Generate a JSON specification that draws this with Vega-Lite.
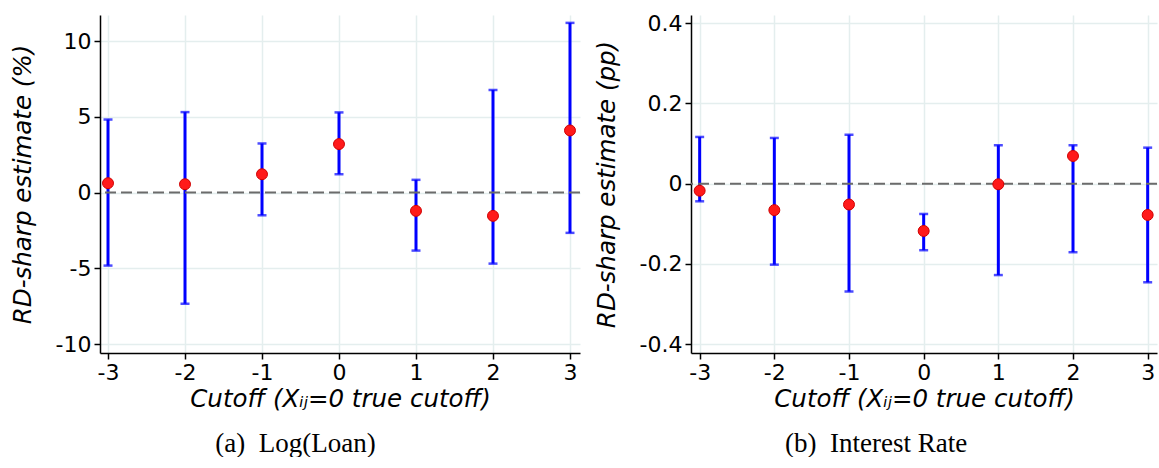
{
  "$schema": "https://vega.github.io/schema/vega-lite/v6.json",
  "padding": {"left": 10, "top": 12, "right": 0, "bottom": 0},
  "spacing": 13,
  "background": "white",
  "datasets": {
    "loan": [
      {"cutoff": -3, "est": 0.62, "lo": -4.82, "hi": 4.82},
      {"cutoff": -2, "est": 0.55, "lo": -7.34, "hi": 5.31},
      {"cutoff": -1, "est": 1.21, "lo": -1.50, "hi": 3.24},
      {"cutoff": 0, "est": 3.20, "lo": 1.21, "hi": 5.29},
      {"cutoff": 1, "est": -1.21, "lo": -3.83, "hi": 0.84},
      {"cutoff": 2, "est": -1.54, "lo": -4.69, "hi": 6.77},
      {"cutoff": 3, "est": 4.10, "lo": -2.66, "hi": 11.20}
    ],
    "rate": [
      {"cutoff": -3, "est": -0.0175, "lo": -0.044, "hi": 0.1165},
      {"cutoff": -2, "est": -0.066, "lo": -0.202, "hi": 0.114},
      {"cutoff": -1, "est": -0.052, "lo": -0.269, "hi": 0.122},
      {"cutoff": 0, "est": -0.118, "lo": -0.166, "hi": -0.0756},
      {"cutoff": 1, "est": -0.0015, "lo": -0.228, "hi": 0.0958},
      {"cutoff": 2, "est": 0.069, "lo": -0.171, "hi": 0.0958},
      {"cutoff": 3, "est": -0.078, "lo": -0.246, "hi": 0.0898}
    ]
  },
  "config": {
    "view": {"stroke": null},
    "axis": {
      "domainColor": "#000000",
      "domainWidth": 1.5,
      "tickColor": "#000000",
      "tickWidth": 1.5,
      "tickSize": 6,
      "labelFont": "DejaVu Sans",
      "labelFontSize": 22,
      "labelColor": "#000000",
      "labelFlush": false,
      "labelOverlap": false,
      "labelPadding": 3,
      "titleFont": "DejaVu Sans",
      "titleFontSize": 24.5,
      "titleFontStyle": "italic",
      "titleFontWeight": "normal",
      "titleColor": "#000000",
      "gridColor": "#e4eeee",
      "gridWidth": 1.5
    },
    "title": {"font": "Liberation Serif", "fontSize": 27, "fontWeight": "normal", "color": "#000000"}
  },
  "hconcat": [
    {
      "width": 480,
      "height": 338,
      "title": {"text": "(a)\u2002Log(Loan)", "orient": "bottom", "anchor": "middle", "frame": "bounds", "offset": 20},
      "layer": [
        {
          "data": {"name": "loan"},
          "mark": {"type": "rule", "color": "#0000ff", "strokeWidth": 3},
          "encoding": {
            "x": {"field": "cutoff", "type": "quantitative",
              "scale": {"domain": [-3.104, 3.13], "nice": false, "zero": false},
              "axis": {"values": [-3, -2, -1, 0, 1, 2, 3], "format": "d", "title": "Cutoff (X\u1d62\u2c7c=0 true cutoff)", "titlePadding": 4,
                "labelExpr": "replace(datum.label, '\u2212', '-')"}},
            "y": {"field": "lo", "type": "quantitative",
              "scale": {"domain": [-10.59, 11.72], "nice": false, "zero": false},
              "axis": {"values": [-10, -5, 0, 5, 10], "title": "RD-sharp estimate (%)", "titlePadding": 20,
                "labelExpr": "replace(datum.label, '\u2212', '-')"}},
            "y2": {"field": "hi"}
          }
        },
        {
          "data": {"values": [{"z": 0}]},
          "mark": {"type": "rule", "color": "#6b6b6b", "strokeWidth": 2, "strokeDash": [11, 5]},
          "encoding": {"y": {"field": "z", "type": "quantitative"}}
        },
        {
          "data": {"name": "loan"},
          "mark": {"type": "tick", "orient": "horizontal", "color": "#0000ff", "size": 9, "thickness": 2.5},
          "encoding": {
            "x": {"field": "cutoff", "type": "quantitative"},
            "y": {"field": "lo", "type": "quantitative"}
          }
        },
        {
          "data": {"name": "loan"},
          "mark": {"type": "tick", "orient": "horizontal", "color": "#0000ff", "size": 9, "thickness": 2.5},
          "encoding": {
            "x": {"field": "cutoff", "type": "quantitative"},
            "y": {"field": "hi", "type": "quantitative"}
          }
        },
        {
          "data": {"name": "loan"},
          "mark": {"type": "point", "filled": true, "shape": "circle", "size": 120, "fill": "#ff1a1a", "stroke": "#d00000", "strokeWidth": 1, "opacity": 1},
          "encoding": {
            "x": {"field": "cutoff", "type": "quantitative"},
            "y": {"field": "est", "type": "quantitative"}
          }
        }
      ]
    },
    {
      "width": 466,
      "height": 338,
      "title": {"text": "(b)\u2002Interest Rate", "orient": "bottom", "anchor": "middle", "frame": "bounds", "offset": 20},
      "layer": [
        {
          "data": {"name": "rate"},
          "mark": {"type": "rule", "color": "#0000ff", "strokeWidth": 3},
          "encoding": {
            "x": {"field": "cutoff", "type": "quantitative",
              "scale": {"domain": [-3.116, 3.125], "nice": false, "zero": false},
              "axis": {"values": [-3, -2, -1, 0, 1, 2, 3], "format": "d", "title": "Cutoff (X\u1d62\u2c7c=0 true cutoff)", "titlePadding": 4,
                "labelExpr": "replace(datum.label, '\u2212', '-')"}},
            "y": {"field": "lo", "type": "quantitative",
              "scale": {"domain": [-0.4224, 0.4207], "nice": false, "zero": false},
              "axis": {"values": [-0.4, -0.2, 0, 0.2, 0.4], "title": "RD-sharp estimate (pp)", "titlePadding": 20,
                "labelExpr": "datum.value == 0 ? '0' : replace(format(datum.value, '.1f'), '\u2212', '-')"}},
            "y2": {"field": "hi"}
          }
        },
        {
          "data": {"values": [{"z": 0}]},
          "mark": {"type": "rule", "color": "#6b6b6b", "strokeWidth": 2, "strokeDash": [11, 5]},
          "encoding": {"y": {"field": "z", "type": "quantitative"}}
        },
        {
          "data": {"name": "rate"},
          "mark": {"type": "tick", "orient": "horizontal", "color": "#0000ff", "size": 9, "thickness": 2.5},
          "encoding": {
            "x": {"field": "cutoff", "type": "quantitative"},
            "y": {"field": "lo", "type": "quantitative"}
          }
        },
        {
          "data": {"name": "rate"},
          "mark": {"type": "tick", "orient": "horizontal", "color": "#0000ff", "size": 9, "thickness": 2.5},
          "encoding": {
            "x": {"field": "cutoff", "type": "quantitative"},
            "y": {"field": "hi", "type": "quantitative"}
          }
        },
        {
          "data": {"name": "rate"},
          "mark": {"type": "point", "filled": true, "shape": "circle", "size": 120, "fill": "#ff1a1a", "stroke": "#d00000", "strokeWidth": 1, "opacity": 1},
          "encoding": {
            "x": {"field": "cutoff", "type": "quantitative"},
            "y": {"field": "est", "type": "quantitative"}
          }
        }
      ]
    }
  ]
}
